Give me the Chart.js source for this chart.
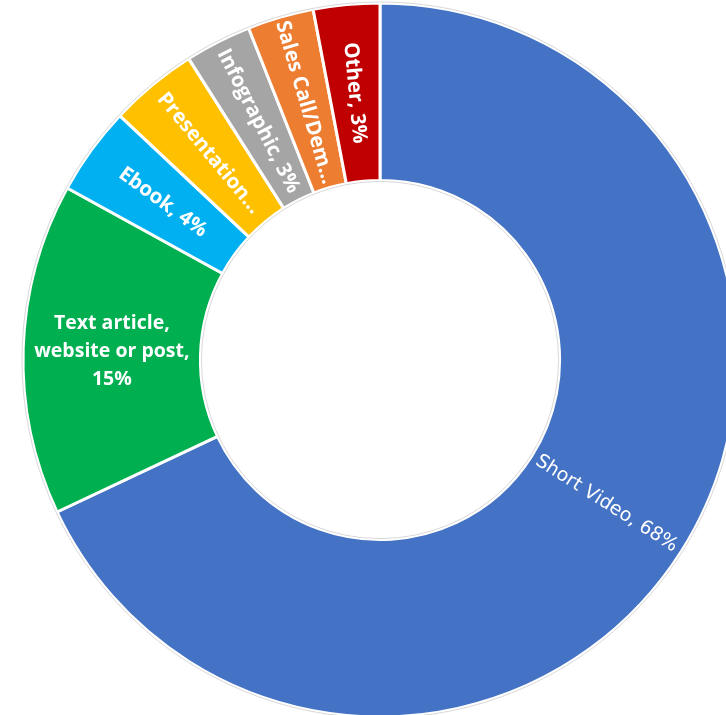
<!DOCTYPE html>
<html>
<head>
<meta charset="utf-8">
<script src="https://cdn.jsdelivr.net/npm/chart.js@4"></script>
<style>
  html, body { margin: 0; padding: 0; background: #ffffff; overflow: hidden; width: 726px; height: 715px; }
  #wrap { position: absolute; left: 0; top: 0; width: 760px; height: 720px; }
  canvas { display: block; }
</style>
</head>
<body>
<div id="wrap"><canvas id="c" width="760" height="720"></canvas></div>
<script>
const categories = ['Short Video', 'Text article, website or post', 'Ebook', 'Presentation', 'Infographic', 'Sales Call/Demo', 'Other'];
const shares = [68, 15, 4, 4, 3, 3, 3];
const labelLines = [
  ['Short Video, 68%'],
  ['Text article,', 'website or post,', '15%'],
  ['Ebook, 4%'],
  ['Presentation…'],
  ['Infographic, 3%'],
  ['Sales Call/Dem…'],
  ['Other, 3%']
];
const colors = ['#4472C4', '#00B050', '#00B0F0', '#FFC000', '#A5A5A5', '#ED7D31', '#C00000'];

const labelPlugin = {
  id: 'sliceLabels',
  afterDatasetsDraw(chart) {
    const ctx = chart.ctx;
    const meta = chart.getDatasetMeta(0);
    // faint outline like the reference
    const a0 = meta.data[0].getProps(['x', 'y', 'innerRadius', 'outerRadius'], true);
    ctx.save();
    ctx.strokeStyle = 'rgba(190,190,190,0.6)';
    ctx.lineWidth = 1;
    ctx.beginPath(); ctx.arc(a0.x, a0.y, a0.outerRadius + 1, 0, Math.PI * 2); ctx.stroke();
    ctx.beginPath(); ctx.arc(a0.x, a0.y, a0.innerRadius - 1, 0, Math.PI * 2); ctx.stroke();
    ctx.restore();
    meta.data.forEach((arc, i) => {
      const p = arc.getProps(['x', 'y', 'startAngle', 'endAngle', 'innerRadius', 'outerRadius'], true);
      const mid = (p.startAngle + p.endAngle) / 2;
      const r = (p.innerRadius + p.outerRadius) / 2;
      const cx = p.x + r * Math.cos(mid);
      const cy = p.y + r * Math.sin(mid);
      const lines = labelLines[i];
      ctx.save();
      ctx.fillStyle = '#ffffff';
      ctx.textAlign = 'center';
      ctx.textBaseline = 'middle';
      ctx.translate(cx, cy);
      if (lines.length > 1) {
        ctx.font = 'bold 19.5px "Open Sans", sans-serif';
        const lh = 28;
        lines.forEach((t, k) => {
          ctx.fillText(t, 0, (k - (lines.length - 1) / 2) * lh);
        });
      } else {
        let rot = mid + Math.PI; // inward
        if (Math.cos(rot) < 0) rot = mid; // keep text upright
        ctx.rotate(rot);
        if (i === 0) {
          ctx.font = '19px "DejaVu Sans", sans-serif';
        } else {
          ctx.font = 'bold 20.5px "Open Sans", sans-serif';
        }
        ctx.fillText(lines[0], 0, 0);
      }
      ctx.restore();
    });
  }
};

new Chart(document.getElementById('c'), {
  type: 'doughnut',
  data: {
    labels: categories,
    datasets: [{
      data: shares,
      backgroundColor: colors,
      borderColor: '#ffffff',
      borderWidth: 3,
      hoverOffset: 0
    }]
  },
  options: {
    responsive: false,
    animation: false,
    radius: 357,
    cutout: '50.3%',
    rotation: 0,
    layout: { padding: 0 },
    plugins: {
      legend: { display: false },
      tooltip: { enabled: false },
      title: { display: false }
    }
  },
  plugins: [labelPlugin]
});
</script>
</body>
</html>
